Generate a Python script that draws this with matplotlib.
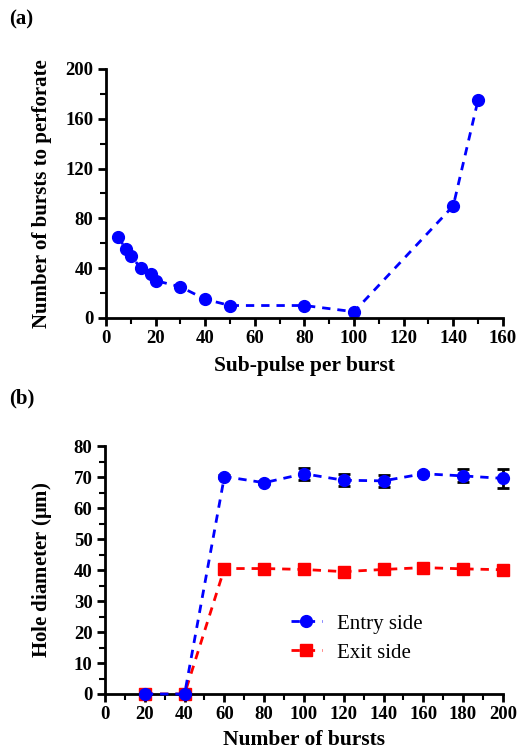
import matplotlib
matplotlib.use('Agg')
import matplotlib.pyplot as plt
from matplotlib.ticker import MultipleLocator

plt.rcParams['font.family'] = ['Liberation Serif', 'DejaVu Serif']
plt.rcParams['mathtext.fontset'] = 'custom'
plt.rcParams['mathtext.rm'] = 'Liberation Serif'
plt.rcParams['mathtext.bf'] = 'Liberation Serif:bold'

# (a) bursts needed to perforate vs sub-pulses per burst
subpulse = [5, 8, 10, 14, 18, 20, 30, 40, 50, 80, 100, 140, 150]
bursts_to_perforate = [65, 55, 50, 40, 35, 30, 25, 15, 10, 10, 5, 90, 175]

# (b) hole diameter vs number of bursts
n_bursts = [20, 40, 60, 80, 100, 120, 140, 160, 180, 200]
entry_diam = [0, 0, 70.2, 68.2, 71.1, 69.0, 68.8, 71.1, 70.4, 69.6]
entry_err = [0, 0, 0.5, 0.5, 2.0, 2.0, 2.0, 0.5, 2.1, 3.0]
exit_diam = [0, 0, 40.5, 40.5, 40.2, 39.5, 40.2, 40.8, 40.4, 40.1]
exit_err = [0, 0, 0.3, 0.3, 0.3, 0.3, 0.3, 0.3, 0.3, 0.3]

fig = plt.figure(figsize=(5.2, 7.51), dpi=100)
ax1 = fig.add_axes([0.204, 0.5766, 0.763, 0.3316])
ax2 = fig.add_axes([0.202, 0.0759, 0.765, 0.330])


def style_axes(ax):
    for side in ['top', 'right']:
        ax.spines[side].set_visible(False)
    for side in ['left', 'bottom']:
        ax.spines[side].set_linewidth(2)
    ax.tick_params(which='major', direction='out', length=6, width=2,
                   labelsize=13.5, pad=3)
    ax.tick_params(which='minor', direction='out', length=4, width=1.5)
    for lab in ax.get_xticklabels() + ax.get_yticklabels():
        lab.set_fontweight('bold')


# panel (a)
ax1.plot(subpulse, bursts_to_perforate, 'o--', color='blue', lw=2,
         ms=8.5, dashes=(3, 2.5), clip_on=False)
ax1.set_xlim(0, 160)
ax1.set_ylim(0, 200)
ax1.xaxis.set_major_locator(MultipleLocator(20))
ax1.xaxis.set_minor_locator(MultipleLocator(10))
ax1.yaxis.set_major_locator(MultipleLocator(40))
ax1.yaxis.set_minor_locator(MultipleLocator(20))
style_axes(ax1)
ax1.set_xlabel('Sub-pulse per burst', fontsize=15.5, fontweight='bold',
               labelpad=6)
ax1.set_ylabel('Number of bursts to perforate', fontsize=15,
               fontweight='bold')
ax1.yaxis.set_label_coords(-0.136, 0.5)

# panel (b)
ax2.errorbar(n_bursts, entry_diam, yerr=entry_err, fmt='none',
             ecolor='black', elinewidth=2, capsize=4, capthick=2,
             clip_on=False, zorder=1.5)
ax2.errorbar(n_bursts, exit_diam, yerr=exit_err, fmt='none',
             ecolor='black', elinewidth=2, capsize=4, capthick=2,
             clip_on=False, zorder=1.5)
ax2.plot(n_bursts, entry_diam, 'o--', color='blue', lw=2, ms=8.5,
         dashes=(3, 2.5), label='Entry side', clip_on=False, zorder=3)
ax2.plot(n_bursts, exit_diam, 's--', color='red', lw=2, ms=8.5,
         dashes=(3, 2.5), label='Exit side', clip_on=False, zorder=2)
ax2.set_xlim(0, 200)
ax2.set_ylim(0, 80)
ax2.xaxis.set_major_locator(MultipleLocator(20))
ax2.xaxis.set_minor_locator(MultipleLocator(10))
ax2.yaxis.set_major_locator(MultipleLocator(10))
ax2.yaxis.set_minor_locator(MultipleLocator(5))
style_axes(ax2)
ax2.set_xlabel('Number of bursts', fontsize=15.5, fontweight='bold',
               labelpad=5)
ax2.set_ylabel(r'Hole diameter ($\mathbf{\mu}$m)', fontsize=15,
               fontweight='bold')
ax2.yaxis.set_label_coords(-0.128, 0.5)
leg = ax2.legend(loc='center left', bbox_to_anchor=(0.42, 0.225),
                 frameon=False, fontsize=15, handlelength=1.5,
                 handletextpad=0.7, labelspacing=0.45)

fig.text(0.018, 0.968, '(a)', fontsize=15, fontweight='bold')
fig.text(0.018, 0.463, '(b)', fontsize=15, fontweight='bold')

fig.savefig('out.png', dpi=100)
